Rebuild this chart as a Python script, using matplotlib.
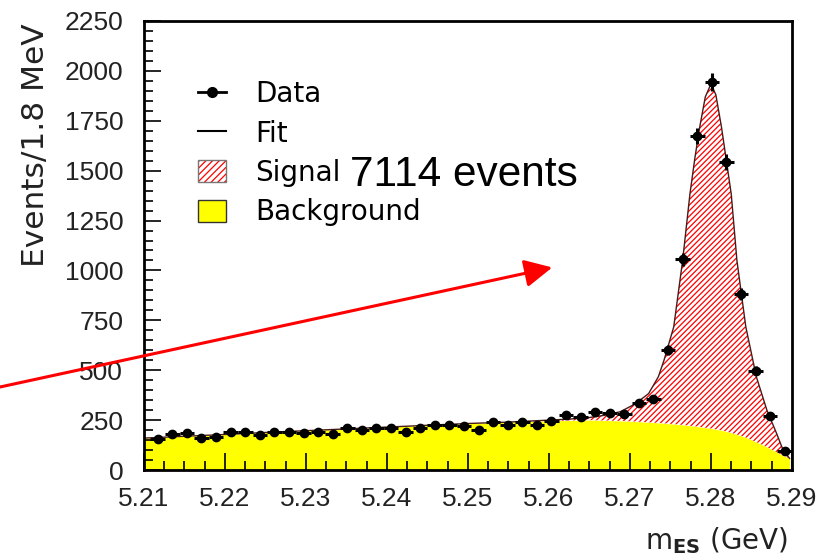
import matplotlib
matplotlib.use('Agg')
import matplotlib.pyplot as plt
import numpy as np
from matplotlib.lines import Line2D
from matplotlib.patches import Patch
from matplotlib.ticker import MultipleLocator, FormatStrFormatter

plt.rcParams['font.family'] = 'Liberation Sans'
plt.rcParams['mathtext.fontset'] = 'dejavusans'
plt.rcParams['hatch.linewidth'] = 0.9

# histogram: 50 bins of 1.8 MeV between 5.20 and 5.29, first 6 outside the view
edges = np.linspace(5.20, 5.29, 51)
centres = 0.5 * (edges[:-1] + edges[1:])
centres = centres[6:]
counts = [155, 180, 183, 161, 166, 191, 191, 173, 188, 191,
          185, 190, 180, 208, 198, 210, 210, 188, 210, 228,
          228, 223, 200, 240, 228, 240, 228, 245, 278, 267,
          292, 288, 280, 337, 355, 600, 1055, 1672, 1945, 1545,
          884, 498, 271, 95]

# fitted curves (same m positions for both)
curve_m = [5.2100, 5.2150, 5.2200, 5.2250, 5.2300, 5.2350, 5.2400, 5.2450,
           5.2500, 5.2550, 5.2600, 5.2625, 5.2650, 5.2670, 5.2688, 5.2706,
           5.2723, 5.2735, 5.2742, 5.2754, 5.2765, 5.2774, 5.2780, 5.2786,
           5.2793, 5.2800, 5.2806, 5.2813, 5.2819, 5.2825, 5.2832, 5.2843,
           5.2856, 5.2869, 5.2881, 5.2889, 5.2897]
bkg_fit = [160, 169, 178, 188, 197, 206, 215, 224,
           233, 240, 246, 248, 250, 248, 246, 243,
           239, 236, 234, 230, 226, 222, 219, 216,
           212, 208, 204, 199, 193, 186, 178, 163,
           140, 115, 90, 72, 58]
total_fit = [160, 169, 178, 188, 197, 206, 215, 224,
             233, 240, 250, 255, 263, 275, 292, 330,
             383, 467, 550, 717, 1050, 1383, 1560, 1717,
             1870, 1935, 1880, 1717, 1550, 1383, 1050, 717,
             467, 300, 183, 100, 58]

n_signal = 7114

fig = plt.figure(figsize=(8.38, 5.58), dpi=100)
ax = fig.add_axes([0.1718, 0.1577, 0.7733, 0.8047])

# background (yellow) and signal (red hatch)
ax.fill_between(curve_m + [curve_m[-1]], 0, bkg_fit + [0], color='#ffff00', lw=0, zorder=1)
ax.fill_between(curve_m, bkg_fit, total_fit, facecolor='none', edgecolor='red',
                hatch='//////', lw=0, zorder=1.5)
ax.plot(curve_m, total_fit, color='#4a1a1a', lw=1, zorder=2)

ax.errorbar(centres, counts, xerr=0.0009, yerr=np.sqrt(counts), fmt='o', color='black',
            ms=6, elinewidth=2.2, capsize=0, zorder=5)

ax.set_xlim(5.21, 5.29)
ax.set_ylim(0, 2250)
ax.xaxis.set_major_locator(MultipleLocator(0.01))
ax.xaxis.set_minor_locator(MultipleLocator(0.0025))
ax.xaxis.set_major_formatter(FormatStrFormatter('%.2f'))
ax.yaxis.set_major_locator(MultipleLocator(250))
ax.yaxis.set_minor_locator(MultipleLocator(50))

ax.tick_params(which='both', direction='in', top=False, right=False, width=1.2,
               labelsize=19, labelcolor='#222222')
ax.tick_params(which='major', length=12)
ax.tick_params(which='minor', length=6.5)
ax.tick_params(axis='x', pad=12)
ax.tick_params(axis='y', pad=15)
for s in ax.spines.values():
    s.set_linewidth(2)

ax.set_ylabel('Events/1.8 MeV', loc='top', fontsize=22.5, family='DejaVu Sans', color='#222222')
ax.yaxis.set_label_coords(-0.145, 0.995)
ax.set_xlabel(r'm$_{\mathbf{ES}}$ (GeV)', loc='right', fontsize=20, family='DejaVu Sans',
              color='#222222')
ax.xaxis.set_label_coords(0.994, -0.122)

data_h = Line2D([], [], color='black', marker='o', ms=7, lw=2)
fit_h = Line2D([], [], color='black', lw=1.5)
sig_h = (Patch(facecolor='white', edgecolor='red', hatch='/////', lw=0),
         Patch(facecolor='none', edgecolor='#777777', lw=1))
bkg_h = Patch(facecolor='#ffff00', edgecolor='#333333', lw=1)
ax.legend([data_h, fit_h, sig_h, bkg_h], ['Data', 'Fit', 'Signal', 'Background'],
          loc='upper left', bbox_to_anchor=(0.0833, 0.868), frameon=False,
          borderpad=0, borderaxespad=0, handlelength=1.0, handleheight=0.85,
          handletextpad=1.05, labelspacing=0.41,
          prop={'family': 'DejaVu Sans', 'size': 20})

ax.text(0.318, 0.657, f'{n_signal} events', transform=ax.transAxes, fontsize=30.5,
        ha='left', va='center', color='black')

ax.annotate('', xy=(5.2604, 1015), xycoords='data',
            xytext=(-0.01, 0.3032), textcoords='figure fraction',
            arrowprops=dict(arrowstyle='-|>,head_length=0.6,head_width=0.3', color='red',
                            lw=2.2, mutation_scale=28, shrinkA=0, shrinkB=0),
            annotation_clip=False)

fig.savefig('out.png', dpi=100)
